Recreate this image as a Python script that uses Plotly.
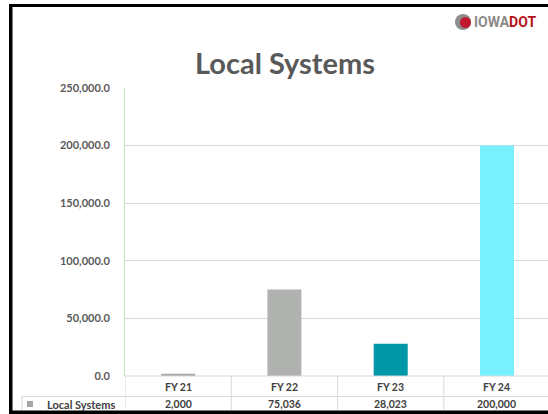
import plotly.graph_objects as go

categories = ["FY 21", "FY 22", "FY 23", "FY 24"]
values = [2000, 75036, 28023, 200000]
value_labels = ["2,000", "75,036", "28,023", "200,000"]
bar_colors = ["#a6a6a6", "#b0b2b0", "#0097a8", "#78f0fe"]
series_name = "Local Systems"
title_text = "Local Systems"
y_ticks = [0, 50000, 100000, 150000, 200000, 250000]

W, H = 548, 414
PL, PR, PT, PB = 125, 548, 88, 376

def px(X):
    return (X - PL) / (PR - PL)

def py(Y):
    return (PB - Y) / (PB - PT)

TXT = "#595959"
GRID = "#d9d9d9"
FONT = "Lato"

fig = go.Figure()
fig.add_trace(go.Bar(x=categories, y=values, marker=dict(color=bar_colors, line=dict(width=0)),
                     name=series_name, showlegend=False, hoverinfo="x+y"))

shapes = []
annotations = []

# table lines
shapes.append(dict(type="line", xref="paper", yref="paper", x0=0, x1=1, y0=py(376), y1=py(376),
                   line=dict(color=GRID, width=1)))
shapes.append(dict(type="line", xref="paper", yref="paper", x0=px(22), x1=1, y0=py(396.5), y1=py(396.5),
                   line=dict(color=GRID, width=1)))
shapes.append(dict(type="line", xref="paper", yref="paper", x0=px(22), x1=px(22), y0=py(396.5), y1=py(410),
                   line=dict(color=GRID, width=1)))
for i, b in enumerate([-0.5, 0.5, 1.5, 2.5]):
    shapes.append(dict(type="line", xref="x", yref="paper", x0=b, x1=b, y0=py(376), y1=py(410),
                       line=dict(color=GRID, width=1)))

# legend key square
shapes.append(dict(type="rect", xref="paper", yref="paper", x0=px(27), x1=px(33), y0=py(407), y1=py(401),
                   fillcolor=bar_colors[0], line=dict(width=0)))

for c, v in zip(categories, value_labels):
    annotations.append(dict(x=c, xref="x", y=py(387), yref="paper", text="<b>%s</b>" % c, showarrow=False,
                            font=dict(family=FONT, size=10.5, color="#404040"), xanchor="center", yanchor="middle"))
    annotations.append(dict(x=c, xref="x", y=py(404), yref="paper", text="<b>%s</b>" % v, showarrow=False,
                            font=dict(family=FONT, size=10.5, color="#404040"), xanchor="center", yanchor="middle"))
annotations.append(dict(x=px(117), xref="paper", y=py(404), yref="paper", text="<b>%s</b>" % series_name,
                        showarrow=False, font=dict(family=FONT, size=11, color="#404040"),
                        xanchor="right", yanchor="middle"))

# title
annotations.append(dict(x=px(285), xref="paper", y=py(62), yref="paper", text="<b>%s</b>" % title_text,
                        showarrow=False, font=dict(family=FONT, size=29, color=TXT),
                        xanchor="center", yanchor="middle"))

# logo
shapes.append(dict(type="circle", xref="paper", yref="paper", x0=px(455), x1=px(471), y0=py(30), y1=py(14),
                   fillcolor="#8c8c8c", line=dict(width=0)))
shapes.append(dict(type="circle", xref="paper", yref="paper", x0=px(460), x1=px(471), y0=py(28), y1=py(17),
                   fillcolor="#c0182f", line=dict(width=0)))
annotations.append(dict(x=px(472), xref="paper", y=py(22), yref="paper",
                        text="<span style='color:#8a8a8a'><b>IOWA</b></span><span style='color:#b5121b'><b>DOT</b></span>",
                        showarrow=False, font=dict(family="Roboto", size=14, color="#8a8a8a"),
                        xanchor="left", yanchor="middle"))

# black frame (left, top, bottom)
for (x0, x1, y0, y1) in [(9, 12.5, 4, 414), (9, 548, 4, 7), (9, 548, 410.5, 414)]:
    shapes.append(dict(type="rect", xref="paper", yref="paper", x0=px(x0), x1=px(x1), y0=py(y1), y1=py(y0),
                       fillcolor="#000000", line=dict(width=0), layer="above"))

fig.update_layout(
    width=W, height=H,
    margin=dict(l=PL, r=W - PR, t=PT, b=H - PB),
    paper_bgcolor="white", plot_bgcolor="white",
    bargap=0.68,
    shapes=shapes, annotations=annotations,
    xaxis=dict(range=[-0.5, 3.48], showticklabels=False, showgrid=False, zeroline=False,
               showline=False, ticks="", fixedrange=True),
    yaxis=dict(range=[0, 250000], tickvals=y_ticks, tickformat=",.1f", showgrid=True, gridcolor=GRID,
               gridwidth=1, zeroline=False, showline=True, linecolor="#c5e0b4", linewidth=1,
               ticks="", ticklabelstandoff=12,
               tickfont=dict(family=FONT, size=11, color=TXT, weight="bold"), fixedrange=True),
    font=dict(family=FONT),
)

fig.write_html("out.html", config={"displayModeBar": False},
               post_script="document.body.style.margin='0';document.body.style.overflow='hidden';")
